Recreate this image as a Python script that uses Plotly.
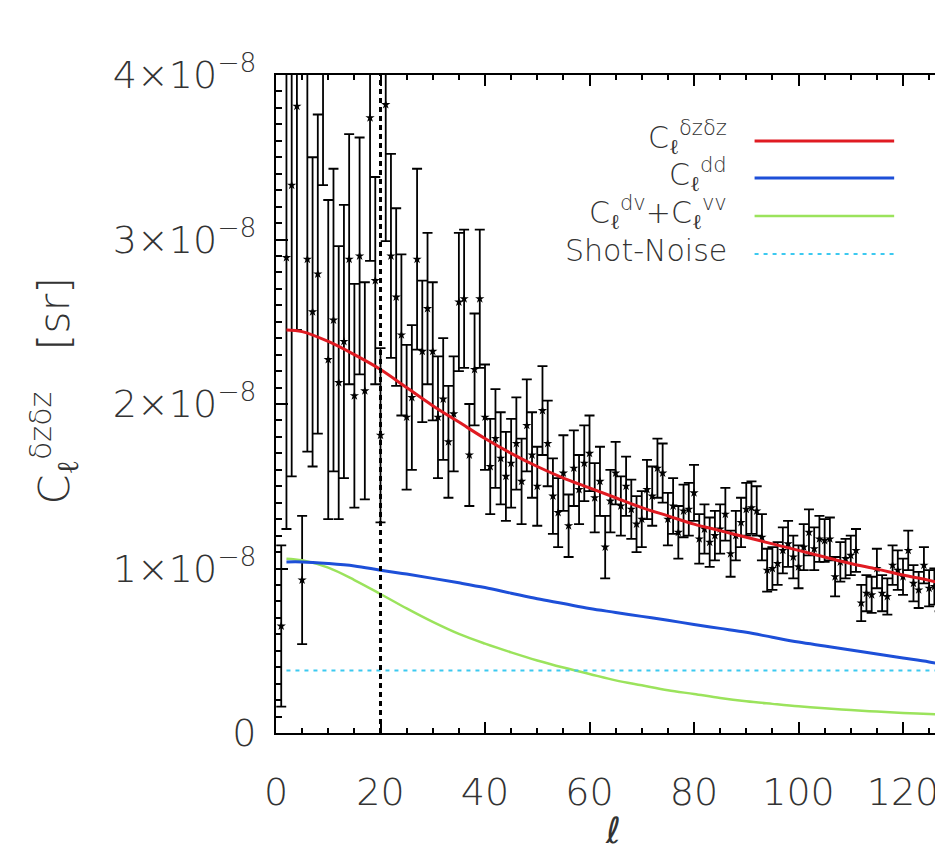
import plotly.graph_objects as go

# ---------------- data (values in units of 1e-8 sr) ----------------
SCALE = 1e-8

ell_obs = list(range(1, 131))
cl_obs = [
    0.65, 2.89, 3.33, 3.81, 0.93, 2.88, 2.56, 2.79, 4.35, 2.27,
    2.51, 2.13, 2.38, 2.88, 2.05, 2.90, 2.08, 3.74, 2.75, 1.81,
    3.82, 2.90, 2.65, 2.42, 1.92, 2.04, 2.88, 2.32, 2.58, 2.32,
    1.92, 2.03, 1.77, 1.94, 2.62, 2.64, 1.69, 2.21, 2.64, 1.92,
    1.62, 1.79, 1.67, 1.56, 1.64, 1.76, 1.53, 1.87, 1.69, 1.50,
    1.96, 1.76, 1.44, 1.34, 1.58, 1.26, 1.61, 1.48, 1.64, 1.70,
    1.43, 1.53, 1.13, 1.41, 1.58, 1.38, 1.50, 1.36, 1.27, 1.30,
    1.48, 1.44, 1.61, 1.58, 1.30, 1.38, 1.22, 1.35, 1.36, 1.46,
    1.18, 1.24, 1.16, 1.20, 1.24, 1.33, 1.09, 1.20, 1.28, 1.36,
    1.37, 1.35, 1.19, 0.99, 1.00, 1.03, 1.11, 1.15, 1.07, 1.01,
    1.13, 1.22, 1.12, 1.18, 1.17, 1.18, 0.95, 1.04, 1.06, 1.08,
    1.11, 0.79, 0.85, 0.84, 1.00, 0.85, 0.83, 1.02, 0.99, 0.95,
    1.11, 0.91, 0.87, 1.02, 0.88, 0.89, 0.84, 0.96, 0.89, 0.94,
]
cl_err = [
    0.49, 1.65, 1.77, 1.36, 0.39, 1.17, 0.94, 0.97, 1.02, 0.97,
    0.92, 0.83, 0.83, 0.76, 0.68, 0.72, 0.66, 0.87, 0.63, 0.53,
    0.83, 0.62, 0.54, 0.49, 0.44, 0.44, 0.55, 0.43, 0.46, 0.42,
    0.37, 0.37, 0.34, 0.35, 0.42, 0.42, 0.31, 0.34, 0.42, 0.32,
    0.29, 0.30, 0.28, 0.27, 0.27, 0.28, 0.26, 0.28, 0.26, 0.24,
    0.27, 0.26, 0.23, 0.21, 0.23, 0.19, 0.23, 0.21, 0.23, 0.23,
    0.21, 0.21, 0.19, 0.19, 0.19, 0.18, 0.18, 0.18, 0.17, 0.17,
    0.18, 0.18, 0.18, 0.18, 0.16, 0.17, 0.16, 0.16, 0.16, 0.17,
    0.15, 0.15, 0.15, 0.15, 0.15, 0.16, 0.14, 0.15, 0.15, 0.16,
    0.16, 0.15, 0.14, 0.13, 0.13, 0.13, 0.14, 0.14, 0.13, 0.13,
    0.14, 0.14, 0.13, 0.14, 0.13, 0.13, 0.12, 0.12, 0.12, 0.12,
    0.13, 0.11, 0.11, 0.11, 0.12, 0.11, 0.11, 0.12, 0.12, 0.11,
    0.12, 0.11, 0.11, 0.11, 0.11, 0.11, 0.10, 0.11, 0.10, 0.10,
]

ell_th = [2, 5, 10, 15, 20, 25, 30, 35, 40, 45, 50, 55, 60, 65, 70,
          75, 80, 85, 90, 95, 100, 105, 110, 115, 120, 125, 130]
cl_total = [2.45, 2.44, 2.38, 2.30, 2.21, 2.10, 1.99, 1.89, 1.79, 1.70,
            1.62, 1.55, 1.49, 1.43, 1.37, 1.32, 1.27, 1.23, 1.19, 1.15,
            1.11, 1.07, 1.03, 0.996, 0.96, 0.928, 0.89]
cl_dd = [1.04, 1.04, 1.03, 1.015, 0.99, 0.966, 0.94, 0.913, 0.884, 0.85,
         0.816, 0.787, 0.757, 0.733, 0.709, 0.685, 0.66, 0.636, 0.612, 0.582,
         0.553, 0.529, 0.505, 0.48, 0.456, 0.432, 0.40]
cl_dv_vv = [1.06, 1.05, 1.005, 0.93, 0.845, 0.757, 0.675, 0.602, 0.543, 0.49,
            0.441, 0.398, 0.359, 0.32, 0.29, 0.26, 0.237, 0.213, 0.193, 0.177,
            0.162, 0.15, 0.14, 0.13, 0.122, 0.116, 0.11]
ell_shot = [2, 130]
cl_shot = [0.38, 0.38]

ell_cut = 20

legend_labels = ["C<sub>ℓ</sub><sup>δzδz</sup>", "C<sub>ℓ</sub><sup>dd</sup>",
                 "C<sub>ℓ</sub><sup>dv</sup>+C<sub>ℓ</sub><sup>vv</sup>", "Shot-Noise"]

x_tickvals = [0, 20, 40, 60, 80, 100, 120]
y_tickvals = [0, 1, 2, 3, 4]
y_ticktext = ["0", "1×10<sup>−8</sup>", "2×10<sup>−8</sup>",
              "3×10<sup>−8</sup>", "4×10<sup>−8</sup>"]

# ---------------- styling ----------------
RED = "#e01b22"
BLUE = "#1d4fd8"
GREEN = "#9be35c"
CYAN = "#3cc9f0"
FONT = "DejaVu Sans"
TXT = "#333333"

def sc(v):
    return [a * SCALE for a in v]

fig = go.Figure()

fig.add_trace(go.Scatter(
    x=ell_obs, y=sc(cl_obs), mode="markers", name="data",
    marker=dict(symbol="star", size=7, color="black"),
    error_y=dict(type="data", array=sc(cl_err), visible=True,
                 color="black", thickness=1.8, width=5),
    showlegend=False))

fig.add_trace(go.Scatter(x=ell_th, y=sc(cl_dv_vv), mode="lines", name="dv+vv",
                         line=dict(color=GREEN, width=2.5, shape="spline"), showlegend=False))
fig.add_trace(go.Scatter(x=ell_th, y=sc(cl_dd), mode="lines", name="dd",
                         line=dict(color=BLUE, width=3, shape="spline"), showlegend=False))
fig.add_trace(go.Scatter(x=ell_shot, y=sc(cl_shot), mode="lines", name="shot",
                         line=dict(color=CYAN, width=2, dash="4px,5px"), showlegend=False))
fig.add_trace(go.Scatter(x=ell_th, y=sc(cl_total), mode="lines", name="total",
                         line=dict(color=RED, width=3, shape="spline"), showlegend=False))

fig.add_vline(x=ell_cut, line=dict(color="black", width=3, dash="5px,4px"))

YMIN, YMAX = 0.0, 4.0 * SCALE

tickfont = dict(family=FONT, size=38, color=TXT, weight=300)

fig.update_layout(
    width=943, height=850,
    margin=dict(l=268, r=0, t=67, b=125),
    paper_bgcolor="white", plot_bgcolor="white",
    xaxis=dict(range=[0, 128.8], tickvals=x_tickvals, ticks="inside", ticklen=11,
               tickcolor="black", tickwidth=1.5, tickfont=tickfont,
               showgrid=False, zeroline=False,
               showline=True, linecolor="black", linewidth=2, mirror="allticks",
               minor=dict(dtick=5, tick0=0, ticks="inside", ticklen=5,
                          tickcolor="black", tickwidth=1.5),
               ticklabelstandoff=24),
    yaxis=dict(range=[YMIN, YMAX], tickvals=sc(y_tickvals), ticktext=y_ticktext,
               ticks="inside", ticklen=12, tickcolor="black", tickwidth=1.5,
               tickfont=tickfont, showgrid=False, zeroline=False,
               showline=True, linecolor="black", linewidth=2, mirror="allticks",
               minor=dict(dtick=0.1 * SCALE, tick0=0, ticks="inside", ticklen=6,
                          tickcolor="black", tickwidth=1.5),
               ticklabelstandoff=10),
    showlegend=False,
)

# x-axis title
fig.add_annotation(xref="paper", yref="paper", x=0.5, y=(725 - 822) / 658,
                   text="<i>ℓ</i>", showarrow=False, xanchor="center", yanchor="middle",
                   font=dict(family=FONT, size=36, color=TXT, weight=300))

# y-axis title
fig.add_annotation(xref="paper", yref="paper", x=(45 - 268) / 675, y=0.52,
                   text="C<sub>ℓ</sub><sup>δzδz</sup>\u00a0\u00a0\u00a0[sr]", textangle=-90,
                   showarrow=False, xanchor="center", yanchor="middle",
                   font=dict(family=FONT, size=43, color=TXT, weight=300))

# manual legend (text right-aligned, sample lines to the right)
leg_y_px = [133, 170, 208, 246]
leg_colors = [RED, BLUE, GREEN, CYAN]
leg_dash = ["solid", "solid", "solid", "4px,5px"]
leg_width = [3, 3, 2.5, 2]
plot_w, plot_h, plot_l, plot_b = 675, 658, 268, 725
for lab, ypx, col, dsh, lw in zip(legend_labels, leg_y_px, leg_colors, leg_dash, leg_width):
    yp = (plot_b - ypx) / plot_h
    fig.add_annotation(xref="paper", yref="paper", x=(722 - plot_l) / plot_w, y=yp + 4 / plot_h,
                       text=lab, showarrow=False, xanchor="right", yanchor="middle",
                       font=dict(family=FONT, size=30, color=TXT, weight=300))
    fig.add_shape(type="line", xref="paper", yref="paper",
                  x0=(748 - plot_l) / plot_w, x1=(888 - plot_l) / plot_w, y0=yp, y1=yp,
                  line=dict(color=col, width=lw, dash=dsh))

fig.write_html("out.html", config={"displayModeBar": False})
